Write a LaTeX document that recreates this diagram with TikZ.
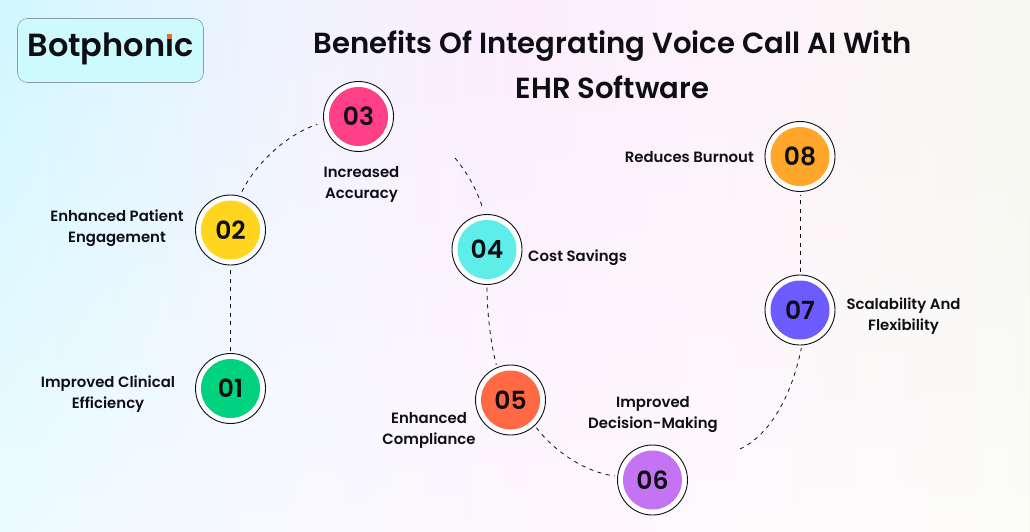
\documentclass[tikz,border=0pt]{standalone}
\usepackage{fontspec}
\setmainfont{Poppins}[UprightFont=* Medium,BoldFont=* SemiBold]
\usetikzlibrary{fadings}
\definecolor{ink}{HTML}{0E0E14}
\definecolor{logofill}{HTML}{CDFAFD}
\definecolor{logoline}{HTML}{8A9BA5}
\definecolor{logodotcol}{HTML}{F26A1B}
\definecolor{cOne}{HTML}{00D27F}
\definecolor{cTwo}{HTML}{FFD51F}
\definecolor{cThree}{HTML}{FF3F86}
\definecolor{cFour}{HTML}{5EEDE8}
\definecolor{cFive}{HTML}{FF6A45}
\definecolor{cSix}{HTML}{C474F2}
\definecolor{cSeven}{HTML}{6C5CFF}
\definecolor{cEight}{HTML}{FFA62B}
\pgfdeclarehorizontalshading{pagewash}{100bp}{
  rgb(0bp)=(0.82,0.97,1);
  rgb(25bp)=(0.82,0.97,1);
  rgb(32.5bp)=(0.89,0.96,1);
  rgb(40bp)=(0.95,0.95,1);
  rgb(50bp)=(0.99,0.93,0.995);
  rgb(60bp)=(0.995,0.95,0.985);
  rgb(75bp)=(0.965,0.97,0.94);
  rgb(100bp)=(0.965,0.97,0.94)}
\tikzfading[name=pagefade,top color=transparent!100,bottom color=transparent!40]
\tikzset{
  ringnode/.style={circle,draw=ink,line width=0.9pt,fill=white,minimum size=70pt,inner sep=0pt,outer sep=3pt},
  discnode/.style={circle,minimum size=59pt,inner sep=0pt,font=\fontsize{25}{25}\selectfont\bfseries,text=ink},
  labelnode/.style={align=center,font=\fontsize{14.9}{21}\selectfont\bfseries,text=ink,inner sep=0pt},
  titlenode/.style={align=center,font=\fontsize{29.1}{45}\selectfont\bfseries,text=ink,inner sep=0pt},
  link/.style={draw=ink,line width=0.8pt,dash pattern=on 4pt off 4.5pt},
}
\newcommand{\stepdot}[4]{%
  \node[ringnode] (n#1) at (#2,#3) {};
  \node[discnode,fill=#4] (d#1) at (#2,#3) {0#1};
}
\begin{document}
\begin{tikzpicture}[x=1pt,y=-1pt]
\useasboundingbox (0,0) rectangle (1030,532);
\shade[shading=pagewash] (0,0) rectangle (1030,532);
\fill[white,path fading=pagefade] (0,0) rectangle (1030,532);
\node[draw=logoline,line width=0.6pt,fill=logofill,rounded corners=10pt,minimum width=186pt,minimum height=64pt,inner sep=0pt] (logo) at (110.5,50.5) {};
\node[inner sep=0pt,font=\fontsize{32}{32}\selectfont\bfseries,text=ink] (logotext) at (110.5,48.5) {Botphonic};
\fill[logofill] (165.5,29) rectangle (174,36);
\node[fill=logodotcol,minimum size=5.5pt,inner sep=0pt] (logodot) at (169.6,36.5) {};
\node[titlenode] (title) at (612.5,64.5) {Benefits Of Integrating Voice Call AI With\\EHR Software};
\stepdot{1}{230.5}{388.5}{cOne}
\stepdot{2}{230.5}{230}{cTwo}
\stepdot{3}{358.5}{116.5}{cThree}
\stepdot{4}{487}{249.5}{cFour}
\stepdot{5}{510.5}{400}{cFive}
\stepdot{6}{652.5}{480}{cSix}
\stepdot{7}{800}{310}{cSeven}
\stepdot{8}{800}{156.5}{cEight}
\node[labelnode] (l1) at (108,394) {Improved Clinical\\Efficiency};
\node[labelnode] (l2) at (117,228) {Enhanced Patient\\Engagement};
\node[labelnode] (l3) at (361.5,184) {Increased\\Accuracy};
\node[labelnode,anchor=west] (l4) at (528,257.5) {Cost Savings};
\node[labelnode] (l5) at (429,430) {Enhanced\\Compliance};
\node[labelnode] (l6) at (653,415) {Improved\\Decision-Making};
\node[labelnode] (l7) at (903.5,316) {Scalability And\\Flexibility};
\node[labelnode,anchor=east] (l8) at (754,157.5) {Reduces Burnout};
\coordinate (free3) at (455,158);
\coordinate (free6) at (740,449);
\draw[link] (n1.north) -- (n2.south);
\draw[link,shorten <=2pt,shorten >=4pt] (n2.74) .. controls (255,165) and (285,135) .. (n3.190);
\draw[link,shorten >=5pt] (free3) .. controls (465,170) and (476,187) .. (n4.95);
\draw[link] (n4.270) .. controls (487,310) and (490,340) .. (n5.112);
\draw[link] (n5.-47) .. controls (555,452) and (585,472) .. (n6.174);
\draw[link] (free6) .. controls (770,435) and (792,395) .. (n7.-88);
\draw[link] (n7.north) -- (n8.south);
\end{tikzpicture}
\end{document}
